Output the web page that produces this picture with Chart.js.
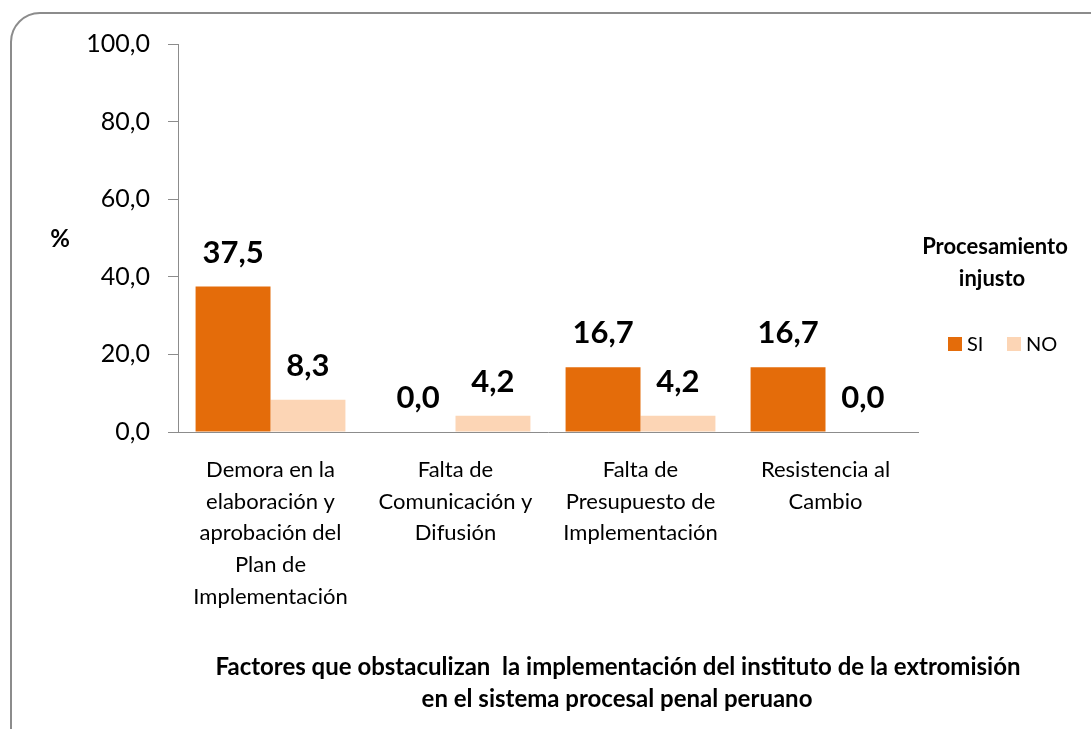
<!DOCTYPE html>
<html>
<head>
<meta charset="utf-8">
<script src="https://cdn.jsdelivr.net/npm/chart.js@4"></script>
<style>
  html, body { margin: 0; padding: 0; background: #fff; }
  #wrap { position: relative; width: 1091px; height: 729px; overflow: hidden; }
  #frame { position: absolute; left: 10px; top: 12px; width: 1130px; height: 760px;
           border: 2px solid #8c8c8c; border-radius: 30px; box-sizing: border-box; }
  canvas { position: absolute; left: 0; top: 0; }
</style>
</head>
<body>
<div id="wrap">
  <div id="frame"></div>
  <canvas id="chart" width="1091" height="729"></canvas>
</div>
<script>
const categories = [
    ["Demora en la", "elaboración y", "aprobación del", "Plan de", "Implementación"],
    ["Falta de", "Comunicación y", "Difusión"],
    ["Falta de", "Presupuesto de", "Implementación"],
    ["Resistencia al", "Cambio"]
];
const seriesNames = ["SI", "NO"];
const siValues = [37.5, 0.0, 16.7, 16.7];
const noValues = [8.3, 4.2, 4.2, 0.0];
const yTicks = [0, 20, 40, 60, 80, 100];
const legendTitle = ["Procesamiento", "injusto"];
const yTitle = "%";
const xTitle = [
    "Factores que obstaculizan  la implementación del instituto de la extromisión",
    "en el sistema procesal penal peruano"
];

const fmt = (v) => v.toFixed(1).replace(".", ",");
const FONT = "Lato, 'Open Sans', sans-serif";

// value labels, axis titles and legend drawn on the canvas
const extras = {
    id: "extras",
    afterDatasetsDraw(chart) {
        const ctx = chart.ctx;
        ctx.save();
        ctx.fillStyle = "#000";
        ctx.textAlign = "center";
        ctx.textBaseline = "alphabetic";
        ctx.font = "bold 31px " + FONT;
        chart.data.datasets.forEach((ds, i) => {
            chart.getDatasetMeta(i).data.forEach((bar, j) => {
                ctx.fillText(fmt(ds.data[j]), bar.x, bar.y - 24);
            });
        });

        ctx.textBaseline = "middle";
        // y title
        ctx.font = "bold 24px " + FONT;
        ctx.fillText(yTitle, 60, 239);

        // x title
        ctx.font = "bold 24px " + FONT;
        ctx.fillText(xTitle[0], 618, 667);
        ctx.fillText(xTitle[1], 617, 699);

        // legend
        ctx.font = "bold 22px " + FONT;
        ctx.fillText(legendTitle[0], 995, 247);
        ctx.fillText(legendTitle[1], 992, 279);
        ctx.font = "20px " + FONT;
        ctx.textAlign = "left";
        let x = 948;
        chart.data.datasets.forEach((ds) => {
            ctx.fillStyle = ds.backgroundColor;
            ctx.fillRect(x, 337, 14, 14);
            ctx.fillStyle = "#000";
            ctx.fillText(ds.label, x + 19, 345);
            x += 59;
        });
        ctx.restore();
    }
};

new Chart(document.getElementById("chart"), {
    type: "bar",
    data: {
        labels: categories,
        datasets: [
            { label: seriesNames[0], data: siValues, backgroundColor: "#E46C0A" },
            { label: seriesNames[1], data: noValues, backgroundColor: "#FCD5B5" }
        ]
    },
    plugins: [extras],
    options: {
        responsive: false,
        animation: false,
        layout: { padding: { left: 0, right: 173, top: 44, bottom: 0 } },
        datasets: { bar: { categoryPercentage: 0.81, barPercentage: 1.0 } },
        scales: {
            x: {
                afterFit: (s) => { s.height = 297; },
                grid: { display: false },
                border: { display: true, color: "#8c8c8c", width: 1 },
                ticks: {
                    color: "#000",
                    padding: 14,
                    maxRotation: 0,
                    font: { family: FONT, size: 22, lineHeight: 1.44 }
                }
            },
            y: {
                min: 0,
                max: 100,
                afterFit: (s) => { s.width = 178; },
                afterBuildTicks: (s) => { s.ticks = yTicks.map((v) => ({ value: v })); },
                grid: { drawOnChartArea: false, drawTicks: true, tickLength: 10, color: "#8c8c8c" },
                border: { display: true, color: "#8c8c8c", width: 1 },
                ticks: {
                    color: "#000",
                    padding: 18,
                    callback: (v) => fmt(v),
                    font: { family: FONT, size: 25 }
                }
            }
        },
        plugins: {
            legend: { display: false },
            tooltip: { enabled: false }
        }
    }
});
</script>
</body>
</html>
